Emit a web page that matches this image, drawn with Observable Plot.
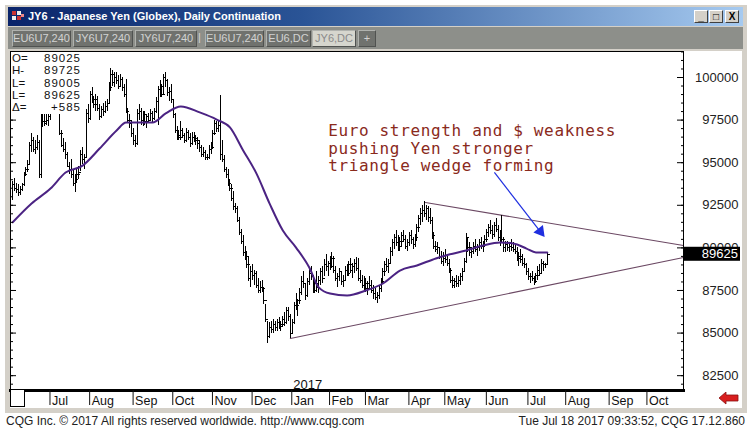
<!DOCTYPE html>
<html><head><meta charset="utf-8">
<script src="https://cdn.jsdelivr.net/npm/d3@7"></script>
<script src="https://cdn.jsdelivr.net/npm/@observablehq/plot@0.6"></script>
<style>
body{margin:0;width:750px;height:430px;position:relative;background:#fff;overflow:hidden;font-family:"Liberation Sans",Arial,sans-serif;}
.abs{position:absolute;}
#win{left:5px;top:5px;width:742px;height:408px;background:#d4d0c8;}
#title{left:8px;top:7px;width:735px;height:19px;background:linear-gradient(to right,#0a246a 0%,#2a5496 40%,#a6caf0 100%);}
#title .t{position:absolute;left:20px;top:3px;color:#fff;font-weight:bold;font-size:11px;white-space:nowrap;}
.btn{position:absolute;top:3px;width:14px;height:13px;background:#d4d0c8;border:1px solid;border-color:#fff #404040 #404040 #fff;box-sizing:border-box;font:bold 10px/11px "Liberation Sans",Arial;text-align:center;color:#000;}
#tabs{left:8px;top:27px;width:735px;height:22px;background:#8d8f8a;}
.tab{position:absolute;top:3px;height:17px;background:#70726e;border:1px solid;border-color:#b0b2ae #505250 #505250 #b0b2ae;box-sizing:border-box;color:#d2d2d2;font-size:11px;line-height:15px;text-align:center;white-space:nowrap;}
.tab.act{background:#d6d6ce;color:#8a8a8a;}
#chart{left:10px;top:51px;}
#readout{left:11px;top:52px;width:75px;height:62px;background:#fff;font-size:11.5px;color:#111;}
#readout div{position:absolute;left:1px;width:69px;height:12px;line-height:12px;}
#readout span{position:absolute;right:0;letter-spacing:1px;}
#blbox{left:10px;top:389px;width:15px;height:18px;background:#fff;border:1px solid #000;box-sizing:border-box;}
.foot{top:414px;font-size:12px;color:#222;white-space:nowrap;}
</style></head><body>
<div class="abs" id="win"></div>
<div class="abs" id="title">
  <svg class="abs" style="left:3px;top:3px" width="14" height="13"><rect x="1" y="1" width="4" height="4" fill="#c33"/><rect x="6" y="1" width="4" height="4" fill="#eee"/><rect x="1" y="6" width="4" height="4" fill="#eee"/><rect x="6" y="6" width="4" height="4" fill="#c33"/><rect x="10" y="4" width="3" height="3" fill="#e88"/></svg>
  <div class="t">JY6 - Japanese Yen (Globex), Daily Continuation</div>
  <div class="btn" style="left:686px">_</div>
  <div class="btn" style="left:701px">&#9633;</div>
  <div class="btn" style="left:717px">X</div>
</div>
<div class="abs" id="tabs">
  <div class="tab" style="left:4px;width:59px">EU6U7,240</div>
  <div class="tab" style="left:65px;width:60px">JY6U7,240</div>
  <div class="tab" style="left:127px;width:62px">JY6U7,240</div>
  <div class="abs" style="left:190px;top:3px;color:#d2d2d2;font-size:11px;line-height:15px">|</div>
  <div class="tab" style="left:197px;width:59px">EU6U7,240</div>
  <div class="tab" style="left:258px;width:45px">EU6,DC</div>
  <div class="tab act" style="left:304px;width:44px">JY6,DC</div>
  <div class="tab" style="left:350px;width:18px">+</div>
</div>
<div class="abs" id="chart"></div>
<div class="abs" id="readout"></div>
<div class="abs" id="blbox"></div>
<svg class="abs" style="left:718px;top:392px" width="22" height="14"><polygon points="1,6 8,0 8,3 20,3 20,9 8,9 8,12" fill="#d81e1e" stroke="#8a1010" stroke-width="0.8"/></svg>
<div class="abs foot" style="left:6px">CQG Inc. © 2017 All rights reserved worldwide. http://www.cqg.com</div>
<div class="abs foot" style="right:5px">Tue Jul 18 2017 09:33:52, CQG 17.12.860</div>
<script>
// ---- Daily bars (index 0 = first trading day shown, Jun 2016) ----
const highs = [
93900,94050,93800,93700,93600,93800,94400,94700,95100,96200,
96700,96500,96300,96600,96300,101000,98300,98100,97900,98000,
98300,99000,99500,99300,100100,98800,96900,96400,96200,95600,
95000,95200,94600,94300,94600,94800,95700,95900,95500,98100,
98400,99200,99400,98900,99000,98900,98400,98300,98500,98600,
98700,99700,100500,100400,100300,100300,100100,100200,100000,99600,
99900,98200,97800,97500,97000,96600,98100,98400,98200,98000,
98000,97800,97900,98100,98000,98200,98800,99500,99800,99600,
100200,100300,99900,99400,99600,98700,97900,97100,96900,97400,
97000,96700,97000,96900,96700,96800,96800,96600,96500,96300,
96000,95900,95700,95500,96000,96200,96900,97500,97400,97400,
98950,96300,95400,94700,94600,94000,93700,93300,92600,92400,
91800,91100,90700,90100,89800,89500,88900,89000,88700,88600,
88200,88000,88100,87700,86700,85700,85600,85700,85800,85700,
85800,85900,85700,86000,86200,86500,86500,86100,85800,86800,
87300,87000,87600,88300,88600,87900,88200,88800,88900,88400,
88200,88600,88300,88800,88900,89300,89600,89200,89500,89700,
89500,88900,88500,88800,88600,88400,88900,89000,89200,89400,
89100,89300,89450,89400,88700,88400,88300,88200,88000,88300,
88100,87800,87600,87400,87800,88200,88800,89200,89400,89300,
90000,90500,90800,91000,90700,90600,90900,91000,90700,90500,
90900,91000,90600,90800,91400,91900,92300,92500,92700,92500,
92400,92300,91800,90900,90400,90300,90000,89800,89700,89900,
89600,89300,88800,88300,88200,88400,88300,88500,88800,89400,
90850,90600,90300,90000,90300,90500,90200,90500,90600,90400,
90700,91100,91400,91600,91300,91500,91700,91300,91000,91900,
90600,90400,90400,90300,90500,90300,90200,90000,89700,89900,
89600,89400,89100,88800,88500,88600,88300,88500,88900,89000,
89300,89200,89100,89725];
const lows = [
92800,93300,93200,93000,93100,93300,93600,94200,94400,94900,
95600,95600,95500,95700,94100,94100,97050,97100,97200,97100,
97500,97900,98300,98500,98600,96600,95900,95600,95200,94700,
94300,94100,93600,93250,93800,94000,94500,94900,94600,95300,
97300,97500,98500,98200,98000,98000,97500,97600,97700,97900,
98000,98500,99200,99500,99400,99600,99300,99400,99200,98800,
97900,97300,97000,96500,96000,95900,96000,97500,97200,97100,
97200,97000,97300,97400,97300,97500,97900,97200,98800,98800,
99000,99400,98900,98600,98500,97600,96700,96300,96300,96300,
96400,96100,96200,96300,95900,96000,96200,96000,95800,95600,
95300,95300,95130,95100,95200,95500,95800,96600,96800,96800,
95150,95000,94400,94100,93600,93300,92700,92200,92000,91500,
90700,90200,89500,89260,88800,88000,87700,88100,87800,87600,
87300,87300,87400,86700,85600,84400,84700,85000,85000,85100,
85100,85200,85100,85300,85400,85500,85700,84700,84900,85500,
86300,86000,86700,87200,87600,86900,87100,87800,88100,87300,
87300,87400,87300,87800,87900,88300,88600,88300,88700,88800,
88500,88000,87700,88000,87800,87700,88000,88300,88300,88500,
88200,88500,88600,88000,87900,87600,87500,87400,87200,87500,
87300,87000,86900,86740,87000,87400,87900,88300,88600,88500,
89000,89500,89900,90100,89800,89800,90000,90300,89900,89800,
90100,90200,89900,90000,90400,90900,91300,91500,91800,91600,
91500,91400,90500,89900,89700,89600,89300,89000,88900,89100,
88900,88500,87900,87600,87620,87700,87700,87800,88000,88600,
89100,89700,89500,89400,89600,89700,89500,89800,89900,89700,
90000,90300,90600,90800,90500,90600,90900,90400,90100,90300,
89700,89700,89800,89700,89800,89700,89600,89200,88900,89100,
88900,88800,88400,88100,87900,88000,87800,87900,88100,88300,
88500,88600,88800,89005];
const closes = [
93700,93500,93400,93250,93450,93700,94300,94600,94900,96000,
96300,95800,95900,96200,94300,97900,97400,97300,97500,97700,
97900,98800,98800,99000,99100,96700,96000,95800,95500,94800,
94600,94300,93800,94000,94300,94400,95500,95200,95300,97900,
97600,99000,98700,98400,98700,98200,97700,98100,98000,98300,
98500,99400,100200,99700,100000,99800,99500,99900,99400,99000,
98000,97500,97300,96700,96300,96100,97900,98000,97500,97800,
97400,97700,97500,97900,97600,98000,98600,99300,99500,99000,
100000,99800,99100,99200,98700,97800,96900,96600,96500,96900,
96600,96300,96800,96500,96100,96500,96400,96300,96100,95900,
95500,95600,95300,95300,95800,95900,96700,97300,97000,97200,
95500,95200,94600,94300,93800,93500,92900,92400,92300,91600,
90900,90400,89700,89500,89000,88200,88600,88400,88500,87800,
87500,87700,87600,86900,85800,84800,85300,85200,85500,85300,
85600,85400,85500,85800,85600,86300,86000,85000,85600,86600,
86600,86900,87400,88000,87900,87200,88000,88500,88300,87500,
87900,87700,88100,88600,88200,89000,88900,89100,88900,89400,
88700,88200,88300,88600,88000,88100,88700,88500,89000,88700,
88900,89100,88800,88200,88100,87800,87900,87600,87900,87800,
87500,87300,87100,87200,87600,88000,88600,89000,88900,89100,
89800,90300,90600,90300,90100,90400,90700,90500,90100,90300,
90700,90500,90200,90600,91200,91700,92000,92200,92000,92300,
91800,91600,90700,90100,89900,90000,89500,89200,89400,89300,
89100,88700,88100,87800,88000,87900,88100,88300,88600,89200,
90600,90000,89700,89800,90100,89900,90000,90300,90100,90200,
90500,90900,91200,91000,90800,91300,91100,90600,90500,90500,
90000,90200,90000,90100,90000,89900,89800,89400,89500,89300,
89100,89000,88600,88300,88300,88200,88000,88400,88700,88500,
89100,89000,89040,89625];

// ---- Moving average ----
const maIdx = [0,10,20,28,37,46,55,60,74,81,89,99,108,115,122,129,136,143,150,157,162,168,177,187,196,205,214,224,231,240,249,258,265,272,277,283];
const maVal = [91500,92600,93480,94420,94830,95830,96890,97360,97360,97890,98300,97950,97530,97070,95720,94370,92600,91020,90020,88850,87680,87320,87210,87500,87910,88670,88970,89380,89610,89850,90140,90320,90260,89960,89730,89730];

// ---- Axes ----
const monthIdx = [20,41,64,85,106,127,148,168,187,210,229,251,273,293,316,336];
const monthLabels = ["Jul","Aug","Sep","Oct","Nov","Dec","Jan","Feb","Mar","Apr","May","Jun","Jul","Aug","Sep","Oct"];
const yTicks = [82500,85000,87500,90000,92500,95000,97500,100000];
const yearLabel = [{i:148, t:"2017"}];

// ---- Readout (last bar) ----
const readLabels = ["O=","H-","L=","L=","\u0394="];
const readValues = ["89025","89725","89005","89625","+585"];
const lastPrice = 89625;

// ---- Annotations ----
const upperLine = [[218.5,92660],[355.1,90140]];
const lowerLine = [[147,84680],[355.1,89440]];
const noteLines = ["Euro strength and $ weakness","pushing Yen stronger","triangle wedge forming"];
const note = [{i:167, p:97300, t:noteLines.join("\n")}];
const arrowPts = [{i:255, p:94430},{i:279.3, p:90960}];

const rows = highs.map((h,i)=>({i, high:h, low:lows[i], close:closes[i]}));
const maRows = maIdx.map((i,k)=>({i, v:maVal[k]}));
const monthMap = new Map(monthIdx.map((d,k)=>[d, monthLabels[k]]));
const closeTick = {draw(ctx){ctx.moveTo(0,0); ctx.lineTo(2.6,0);}};

const chart = Plot.plot({
  width: 732, height: 357,
  marginTop: 0, marginRight: 59, marginBottom: 18, marginLeft: 0,
  x: {type:"linear", domain:[-1.165, 355.1], label:null},
  y: {type:"linear", domain:[81630, 101526], label:null},
  style: {background:"#fff", fontFamily:"'Liberation Sans', Arial, sans-serif", overflow:"visible"},
  marks: [
    Plot.line(upperLine, {x:d=>d[0], y:d=>d[1], stroke:"#6b4863", strokeWidth:1.1}),
    Plot.line(lowerLine, {x:d=>d[0], y:d=>d[1], stroke:"#6b4863", strokeWidth:1.1}),
    Plot.ruleX(rows, {x:"i", y1:"low", y2:"high", stroke:"#000", strokeWidth:1, shapeRendering:"crispEdges"}),
    Plot.dot(rows, {x:"i", y:"close", symbol:closeTick, r:2, fill:"none", stroke:"#000", strokeWidth:1, shapeRendering:"crispEdges"}),
    Plot.line(maRows, {x:"i", y:"v", curve:"monotone-x", stroke:"#4b2383", strokeWidth:2}),
    Plot.link([arrowPts], {x1:d=>d[0].i, y1:d=>d[0].p, x2:d=>d[1].i, y2:d=>d[1].p, stroke:"#1f2fe0", strokeWidth:1.2}),
    Plot.dot([arrowPts[1]], {x:"i", y:"p", symbol:"triangle", r:4.5, fill:"#1f2fe0", stroke:"none", rotate:142}),
    Plot.text(note, {x:"i", y:"p", text:"t", textAnchor:"start", lineAnchor:"top", lineHeight:1.1, fontSize:16, fontFamily:"'DejaVu Sans Mono', monospace", fill:"#8a2a1c", className:"note"}),
    Plot.text(yearLabel, {x:"i", text:"t", frameAnchor:"bottom", lineAnchor:"bottom", textAnchor:"start", dx:1, dy:-2, fontSize:13, fill:"#111"}),
    Plot.frame({stroke:"#000", strokeWidth:1}),
    Plot.frame({anchor:"bottom", stroke:"#000", strokeWidth:3}),
    // right axis ticks (inward) and labels
    Plot.axisY(yTicks, {anchor:"right", tickSize:7, dx:-7, fill:"none", stroke:"#000", label:null}),
    Plot.axisY(d3.range(82000, 101501, 500), {anchor:"right", tickSize:3, dx:-3, fill:"none", stroke:"#000", label:null}),
    Plot.axisY(yTicks, {anchor:"right", tickSize:0, tickPadding:0, dx:55, textAnchor:"end", fontSize:13, fill:"#222", tickFormat:d=>String(d), label:null}),
    // left axis ticks (inward)
    Plot.axisY(yTicks, {anchor:"left", tickSize:6, dx:6, fill:"none", stroke:"#000", label:null}),
    Plot.axisY(d3.range(82000, 101501, 500), {anchor:"left", tickSize:3, dx:3, fill:"none", stroke:"#000", label:null}),
    // month separators and labels
    Plot.axisX(monthIdx, {anchor:"bottom", tickSize:15, dx:-0.5, fill:"none", stroke:"#111", label:null}),
    Plot.axisX(monthIdx, {anchor:"bottom", tickSize:0, tickPadding:6, dx:1.5, textAnchor:"start", fontSize:12.5, fill:"#111", tickFormat:d=>monthMap.get(d), label:null})
  ]
});
document.getElementById("chart").appendChild(chart);
const svg = d3.select(chart);
svg.selectAll("g.note").attr("letter-spacing", "0.65px");

// current price box on the right axis, placed via the y scale
const yPix = chart.scale("y").apply(lastPrice);
svg.append("rect").attr("x", 673).attr("y", yPix - 7).attr("width", 57).attr("height", 14).attr("fill", "#000");
svg.append("text").attr("x", 728).attr("y", yPix).attr("dy", "0.36em").attr("text-anchor", "end")
   .attr("fill", "#fff").attr("font-size", 13).attr("font-family", "'Liberation Sans', Arial, sans-serif").text(String(lastPrice));

// readout box
const ro = document.getElementById("readout");
readLabels.forEach((lab, k) => {
  const r = document.createElement("div");
  r.style.top = (k*12.3) + "px";
  r.textContent = lab;
  const v = document.createElement("span");
  v.textContent = readValues[k];
  r.appendChild(v);
  ro.appendChild(r);
});
</script>
</body></html>
